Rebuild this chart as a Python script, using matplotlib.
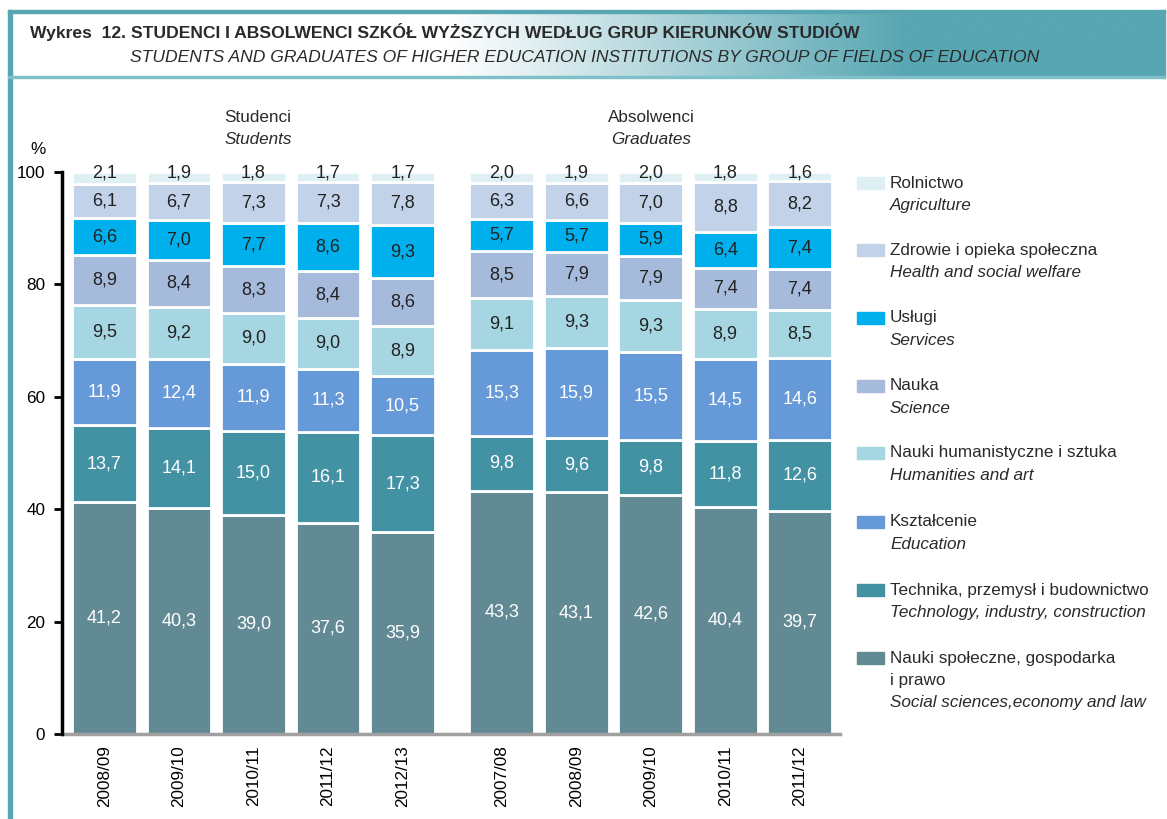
import matplotlib
matplotlib.use("Agg")
import matplotlib.pyplot as plt
import matplotlib.font_manager as fm
from matplotlib.colors import LinearSegmentedColormap
from matplotlib.patches import Rectangle
import numpy as np

# fonts: narrow Arial-like if available
names = set(f.name for f in fm.fontManager.ttflist)
fam = ['Liberation Sans Narrow', 'Liberation Sans', 'DejaVu Sans']
fam = [f for f in fam if f in names] or ['DejaVu Sans']
plt.rcParams['font.family'] = fam

# data
years_s = ['2008/09', '2009/10', '2010/11', '2011/12', '2012/13']
years_g = ['2007/08', '2008/09', '2009/10', '2010/11', '2011/12']

# bottom to top
cat_pl = [['Nauki społeczne, gospodarka', 'i prawo'], ['Technika, przemysł i budownictwo'],
          ['Kształcenie'], ['Nauki humanistyczne i sztuka'], ['Nauka'], ['Usługi'],
          ['Zdrowie i opieka społeczna'], ['Rolnictwo']]
cat_en = ['Social sciences,economy and law', 'Technology, industry, construction',
          'Education', 'Humanities and art', 'Science', 'Services',
          'Health and social welfare', 'Agriculture']
colors = ['#628a94', '#4392a4', '#6699d8', '#a6d6e2', '#a6badb', '#00b0ec',
          '#c2d2e8', '#dff0f5']
txt_col = ['white', 'white', 'white', '#222222', '#222222', '#222222', '#222222', '#222222']

students = [
    [41.2, 40.3, 39.0, 37.6, 35.9],
    [13.7, 14.1, 15.0, 16.1, 17.3],
    [11.9, 12.4, 11.9, 11.3, 10.5],
    [9.5, 9.2, 9.0, 9.0, 8.9],
    [8.9, 8.4, 8.3, 8.4, 8.6],
    [6.6, 7.0, 7.7, 8.6, 9.3],
    [6.1, 6.7, 7.3, 7.3, 7.8],
    [2.1, 1.9, 1.8, 1.7, 1.7],
]
graduates = [
    [43.3, 43.1, 42.6, 40.4, 39.7],
    [9.8, 9.6, 9.8, 11.8, 12.6],
    [15.3, 15.9, 15.5, 14.5, 14.6],
    [9.1, 9.3, 9.3, 8.9, 8.5],
    [8.5, 7.9, 7.9, 7.4, 7.4],
    [5.7, 5.7, 5.9, 6.4, 7.4],
    [6.3, 6.6, 7.0, 8.8, 8.2],
    [2.0, 1.9, 2.0, 1.8, 1.6],
]

W, H = 1167, 819
fig = plt.figure(figsize=(W / 100, H / 100), dpi=100)

def fx(px):
    return px / W

def fy(py):
    return 1 - py / H

fs = 12.3
tc = '#2a2a2a'

# frame + title band
teal = '#57a6b2'
band = fig.add_axes([fx(11), fy(76), fx(1163 - 11), fy(11) - fy(76)])
grad = np.linspace(0, 1, 400).reshape(1, -1)
cmap = LinearSegmentedColormap.from_list('g', [(0, 'white'), (0.38, 'white'), (0.78, teal), (1, teal)])
band.imshow(grad, aspect='auto', cmap=cmap, extent=[0, 1, 0, 1])
band.set_axis_off()
fig.patches.append(Rectangle((fx(8), 0), fx(4), fy(10), transform=fig.transFigure, color=teal, zorder=5))
fig.patches.append(Rectangle((fx(8), fy(13)), fx(1165 - 8), 3 / H, transform=fig.transFigure, color=teal, zorder=5))
fig.patches.append(Rectangle((fx(1162), fy(78)), fx(3), fy(10) - fy(78), transform=fig.transFigure, color=teal, zorder=5))
fig.patches.append(Rectangle((fx(8), fy(78)), fx(1157), 2 / H, transform=fig.transFigure, color='#7fbfc8', zorder=5))

fig.text(fx(30), fy(32), 'Wykres  12. STUDENCI I ABSOLWENCI SZKÓŁ WYŻSZYCH WEDŁUG GRUP KIERUNKÓW STUDIÓW',
         fontsize=12.6, fontweight='bold', color=tc, va='center', ha='left')
fig.text(fx(130), fy(58), 'STUDENTS AND GRADUATES OF HIGHER EDUCATION INSTITUTIONS BY GROUP OF FIELDS OF EDUCATION',
         fontsize=12.6, style='italic', color=tc, va='center', ha='left')

# main axes
ax = fig.add_axes([fx(62), fy(734), fx(840 - 62), fy(172) - fy(734)])
xs = np.arange(5)
xg = np.arange(5) + 5.33
width = 0.87

for xpos, data in [(xs, students), (xg, graduates)]:
    bottom = np.zeros(5)
    for i, vals in enumerate(data):
        vals = np.array(vals)
        ax.bar(xpos, vals, width=width, bottom=bottom, color=colors[i],
               edgecolor='white', linewidth=2, zorder=2)
        for x, b, v in zip(xpos, bottom, vals):
            yc = b + v / 2
            if i == len(data) - 1:
                yc = 99.8
            ax.text(x, yc, f'{v:.1f}'.replace('.', ','), ha='center', va='center',
                    fontsize=13, color=txt_col[i], zorder=3, clip_on=False)
        bottom = bottom + vals

ax.set_xlim(-0.57, 9.87)
ax.set_ylim(0, 100)
ax.set_yticks([0, 20, 40, 60, 80, 100])
ax.tick_params(axis='y', length=6, width=2, color='black', labelsize=fs, pad=6)
ax.set_xticks(list(xs) + list(xg))
ax.set_xticklabels(years_s + years_g, rotation=90, fontsize=fs)
ax.tick_params(axis='x', length=0, pad=8)
for s in ['top', 'right']:
    ax.spines[s].set_visible(False)
ax.spines['left'].set_linewidth(2.5)
ax.spines['left'].set_color('black')
ax.spines['bottom'].set_linewidth(2.5)
ax.spines['bottom'].set_color('#a0a0a0')
ax.spines['left'].set_zorder(4)

fig.text(fx(38), fy(150), '%', fontsize=fs, ha='center', va='center')
fig.text(fx(258), fy(117), 'Studenci', fontsize=fs, ha='center', va='center', color=tc)
fig.text(fx(258), fy(140), 'Students', fontsize=fs, style='italic', ha='center', va='center', color=tc)
fig.text(fx(651), fy(117), 'Absolwenci', fontsize=fs, ha='center', va='center', color=tc)
fig.text(fx(651), fy(140), 'Graduates', fontsize=fs, style='italic', ha='center', va='center', color=tc)

# legend, top to bottom
leg_y = [183, 250, 318, 386, 453, 522, 590, 658]
for k, y in enumerate(leg_y):
    i = len(cat_pl) - 1 - k
    fig.patches.append(Rectangle((fx(857), fy(y + 6)), fx(27), 12 / H,
                                 transform=fig.transFigure, color=colors[i]))
    ly = y
    for line in cat_pl[i]:
        fig.text(fx(890), fy(ly), line, fontsize=fs, ha='left', va='center', color=tc)
        ly += 22.5
    fig.text(fx(890), fy(ly), cat_en[i], fontsize=fs, style='italic', ha='left', va='center', color=tc)

fig.savefig('out.png', dpi=100)
